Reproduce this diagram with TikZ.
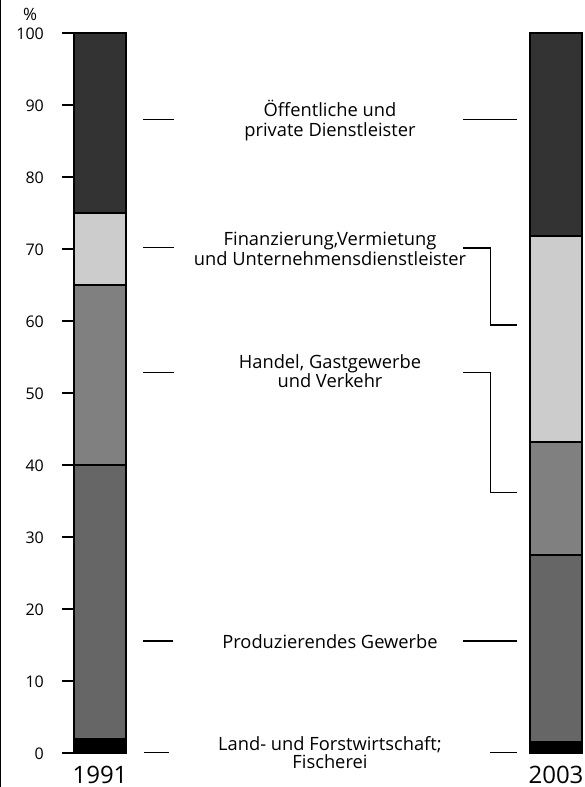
\documentclass[tikz,border=0pt]{standalone}
\usepackage{fontspec}
\setmainfont{Open Sans}
\definecolor{cTop}{HTML}{333333}
\definecolor{cFin}{HTML}{CCCCCC}
\definecolor{cHan}{HTML}{808080}
\definecolor{cPro}{HTML}{666666}
\begin{document}
\begin{tikzpicture}[x=1pt,y=-1pt,
  segline/.style={line width=1.4pt},
  barframe/.style={draw=black,line width=1.5pt},
  tickline/.style={line width=1.3pt},
  lbl/.style={font=\fontsize{18.3}{21}\selectfont,inner sep=0pt,anchor=base},
  axnum/.style={font=\fontsize{16}{19}\selectfont,inner sep=0pt,anchor=base east},
  yr/.style={font=\fontsize{24}{28}\selectfont,inner sep=0pt,anchor=base,text depth=0pt}]
\useasboundingbox (0,0) rectangle (584,787);
% left border line
\draw[line width=1.3pt] (0.7,0) -- (0.7,787);
% axis
\node[font=\fontsize{17}{19}\selectfont,inner sep=0pt,anchor=base] (pct) at (30,20) {\%};
\foreach \v in {0,10,...,100}{
  \node[axnum] (n\v) at (44,{753-7.2*\v+6}) {\v};
  \draw[tickline] (62,{753-7.2*\v}) -- (74,{753-7.2*\v});
}
% left bar 1991
\fill[black] (74,753) rectangle (126,738.6);
\fill[cPro]  (74,738.6) rectangle (126,465);
\fill[cHan]  (74,465) rectangle (126,285);
\fill[cFin]  (74,285) rectangle (126,213);
\fill[cTop]  (74,213) rectangle (126,33);
\draw[segline] (74,738.6) -- (126,738.6) (74,465) -- (126,465) (74,285) -- (126,285) (74,213) -- (126,213);
\draw[barframe] (74,33) rectangle (126,753);
% right bar 2003
\fill[black] (530,753) rectangle (582,741.5);
\fill[cPro]  (530,741.5) rectangle (582,555);
\fill[cHan]  (530,555) rectangle (582,442);
\fill[cFin]  (530,442) rectangle (582,236);
\fill[cTop]  (530,236) rectangle (582,33);
\draw[segline] (530,741.5) -- (582,741.5) (530,555) -- (582,555) (530,442) -- (582,442) (530,236) -- (582,236);
\draw[barframe] (530,33) rectangle (582,753);
% years
\node[yr] (y1991) at (100,783) {1991};
\node[yr] (y2003) at (556,783) {2003};
% labels
\node[lbl] (oe1) at (330,116.7) {Öffentliche und};
\node[lbl] (oe2) at (330,136.2) {private Dienstleister};
\node[lbl] (fi1) at (330,245.7) {Finanzierung,Vermietung};
\node[lbl] (fi2) at (330,265) {und Unternehmensdienstleister};
\node[lbl] (ha1) at (330,368.3) {Handel, Gastgewerbe};
\node[lbl] (ha2) at (330,387) {und Verkehr};
\node[lbl] (pr1) at (330,648.3) {Produzierendes Gewerbe};
\node[lbl] (la1) at (330,750) {Land- und Forstwirtschaft;};
\node[lbl] (la2) at (330,768.5) {Fischerei};
% leader lines left
\draw[tickline] (143,119.5) -- (174,119.5);
\draw[tickline] (143,247.5) -- (174,247.5);
\draw[tickline] (143,372.5) -- (174,372.5);
\draw[tickline] (143,641) -- (173,641);
\draw[tickline] (144,752.5) -- (169,752.5);
% leader lines right
\draw[tickline] (463,119.5) -- (517,119.5);
\draw[tickline] (463,248) -- (490.5,248) -- (490.5,325) -- (517,325);
\draw[tickline] (463,372.5) -- (490.5,372.5) -- (490.5,492.5) -- (517,492.5);
\draw[tickline] (463,641) -- (517,641);
\draw[tickline] (490,752.5) -- (517,752.5);
\end{tikzpicture}
\end{document}
